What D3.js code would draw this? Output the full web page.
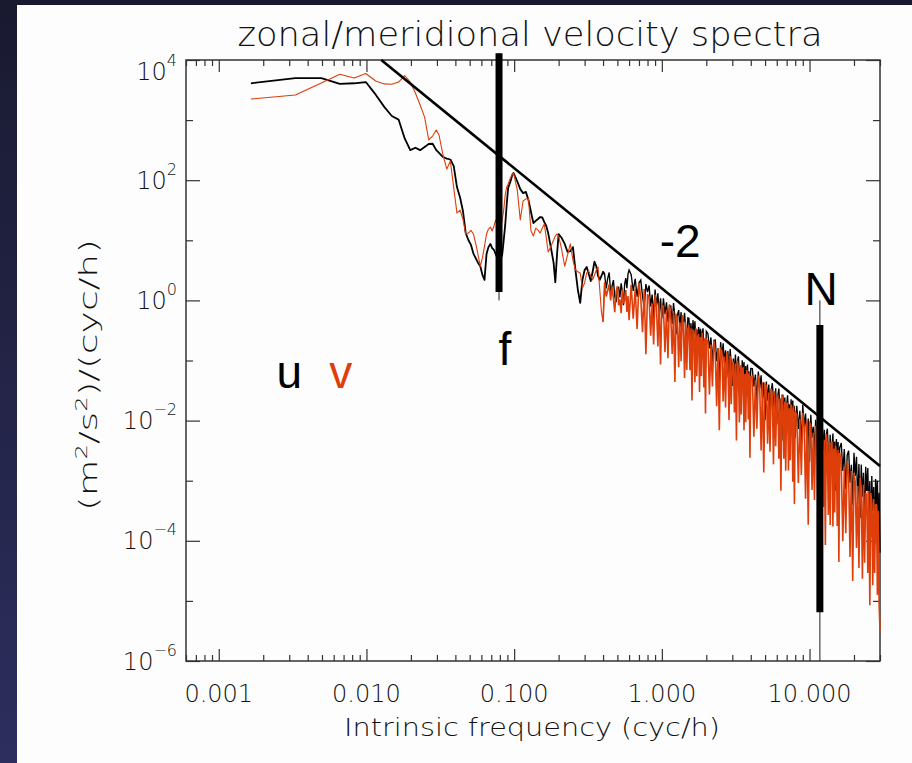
<!DOCTYPE html>
<html>
<head>
<meta charset="utf-8">
<script src="https://cdn.jsdelivr.net/npm/d3@7"></script>
<style>
  html, body { margin: 0; padding: 0; }
  body { width: 912px; height: 763px; overflow: hidden; background: linear-gradient(#191a30, #2d2e5e); }
  svg { display: block; }
</style>
</head>
<body>
<svg id="chart" width="912" height="763"></svg>
<script>
// intrinsic frequency (cyc/h), shared by both spectra
const freq = [
  0.00165, 0.0033, 0.00495, 0.0066, 0.00825, 0.0099, 0.01155, 0.0132, 0.01485, 0.0165, 0.01815, 0.0198, 0.02145, 0.0231, 0.02475, 0.0264, 0.02805, 0.0297,
  0.031, 0.033, 0.035, 0.037, 0.039, 0.041, 0.043, 0.045, 0.047, 0.049, 0.051, 0.053, 0.055, 0.057, 0.059, 0.061, 0.063, 0.065, 0.067, 0.069, 0.071, 0.073, 0.075, 0.077, 0.079, 0.081, 0.083, 0.085, 0.087, 0.089, 0.091, 0.093, 0.095, 0.097, 0.099,
  0.105, 0.11, 0.115, 0.12, 0.125, 0.13, 0.135, 0.14, 0.145, 0.15, 0.155, 0.16, 0.165, 0.17, 0.175, 0.18, 0.185, 0.19, 0.195, 0.2,
  0.21, 0.22, 0.23, 0.24, 0.25, 0.26, 0.27, 0.28, 0.29, 0.3, 0.31, 0.32, 0.33, 0.34, 0.35, 0.36, 0.37, 0.38, 0.39, 0.4,
  0.41, 0.42, 0.43, 0.44, 0.45, 0.46, 0.47, 0.48, 0.49, 0.5, 0.51, 0.52, 0.53, 0.54, 0.55, 0.56, 0.57, 0.58, 0.59, 0.6,
  0.62, 0.64, 0.66, 0.68, 0.7, 0.72, 0.74, 0.76, 0.78, 0.8, 0.82, 0.84, 0.86, 0.88, 0.9, 0.92, 0.94, 0.96, 0.98, 1.0,
  1.025, 1.05, 1.075, 1.1, 1.125, 1.15, 1.175, 1.2, 1.225, 1.25, 1.275, 1.3, 1.325, 1.35, 1.375, 1.4, 1.425, 1.45, 1.475, 1.5,
  1.525, 1.55, 1.575, 1.6, 1.625, 1.65, 1.675, 1.7, 1.725, 1.75, 1.775, 1.8, 1.825, 1.85, 1.875, 1.9, 1.925, 1.95, 1.975, 2.0,
  2.05, 2.1, 2.15, 2.2, 2.25, 2.3, 2.35, 2.4, 2.45, 2.5, 2.55, 2.6, 2.65, 2.7, 2.75, 2.8, 2.85, 2.9, 2.95, 3.0,
  3.05, 3.1, 3.15, 3.2, 3.25, 3.3, 3.35, 3.4, 3.45, 3.5, 3.55, 3.6, 3.65, 3.7, 3.75, 3.8, 3.85, 3.9, 3.95, 4.0,
  4.1, 4.2, 4.3, 4.4, 4.5, 4.6, 4.7, 4.8, 4.9, 5.0, 5.1, 5.2, 5.3, 5.4, 5.5, 5.6, 5.7, 5.8, 5.9, 6.0,
  6.1, 6.2, 6.3, 6.4, 6.5, 6.6, 6.7, 6.8, 6.9, 7.0, 7.1, 7.2, 7.3, 7.4, 7.5, 7.6, 7.7, 7.8, 7.9, 8.0,
  8.2, 8.4, 8.6, 8.8, 9.0, 9.2, 9.4, 9.6, 9.8, 10.0, 10.2, 10.4, 10.6, 10.8, 11.0, 11.2, 11.4, 11.6, 11.8, 12.0,
  12.2, 12.4, 12.6, 12.8, 13.0, 13.2, 13.4, 13.6, 13.8, 14.0, 14.2, 14.4, 14.6, 14.8, 15.0, 15.2, 15.4, 15.6, 15.8, 16.0,
  16.4, 16.8, 17.2, 17.6, 18.0, 18.4, 18.8, 19.2, 19.6, 20.0, 20.4, 20.8, 21.2, 21.6, 22.0, 22.4, 22.8, 23.2, 23.6, 24.0,
  24.4, 24.8, 25.2, 25.6, 26.0, 26.4, 26.8, 27.2, 27.6, 28.0, 28.4, 28.8, 29.2, 29.6, 30.0
];

// zonal (u) spectrum, (m2/s2)/(cyc/h)
const uSpec = [
  4100, 5000, 5000, 4000, 4100, 4300, 2650, 1660, 1170, 1020, 495, 316, 347, 316, 357, 400, 404, 316,
  284, 243, 229, 221, 172, 77, 52, 30.8, 13.2, 10.1, 8.4, 6.0, 5.0, 4.2, 3.7, 2.65, 2.19, 5.9, 7.7, 8.7, 7.4, 6.9, 5.9, 5.1, 4.4, 4.9, 5.7, 10.1, 18, 38.6, 74, 86, 100, 122, 132,
  96, 71, 61, 64, 47, 29.6, 19.4, 21, 22.6, 24.4, 24, 20, 17.3, 13.2, 9.0, 6.2, 4.2, 2.0, 5.7, 12.7,
  10.9, 8.7, 6.4, 6.6, 7.7, 3.2, 1.5, 0.91, 2.2, 3.2, 3.6, 2.75, 2.1, 3.0, 4.4, 3.7, 2.55, 2.2, 2.55, 3.0,
  2.7, 1.58, 2.32, 2.92, 1.35, 1.72, 2.17, 1.17, 0.93, 1.6, 1.65, 1.12, 1.92, 1.41, 0.83, 1.87, 2.35, 1.6, 2.74, 3.2,
  2.67, 1.44, 2.29, 1.15, 1.96, 2.18, 1.18, 0.74, 1.87, 1.37, 1.77, 0.79, 1.25, 0.5, 1.52, 0.79, 1.31, 0.58, 1.08, 0.5,
  1.085, 0.588, 0.931, 0.432, 0.798, 0.807, 0.405, 0.905, 0.55, 0.275, 0.568, 0.688, 0.358, 0.637, 0.307, 0.422, 0.62, 0.348, 0.15, 0.511,
  0.506, 0.244, 0.418, 0.201, 0.469, 0.274, 0.451, 0.194, 0.332, 0.127, 0.362, 0.212, 0.336, 0.139, 0.299, 0.343, 0.165, 0.225, 0.0769, 0.306,
  0.282, 0.159, 0.242, 0.0927, 0.216, 0.218, 0.0973, 0.16, 0.0433, 0.202, 0.113, 0.193, 0.0896, 0.148, 0.0524, 0.144, 0.0594, 0.155, 0.0906, 0.0376,
  0.108, 0.0587, 0.126, 0.0415, 0.0965, 0.117, 0.0588, 0.074, 0.0186, 0.1006, 0.055, 0.0942, 0.0361, 0.0808, 0.0255, 0.0857, 0.0414, 0.0656, 0.0261, 0.0736,
  0.0734, 0.0368, 0.0582, 0.0215, 0.0653, 0.0344, 0.0566, 0.0234, 0.0433, 0.0101, 0.0446, 0.0215, 0.0398, 0.0131, 0.0316, 0.0419, 0.0218, 0.0138, 0.0346, 0.0087,
  0.0261, 0.0341, 0.0147, 0.0232, 0.00466, 0.0272, 0.0108, 0.0242, 0.00735, 0.0178, 0.0264, 0.0127, 0.0187, 0.00506, 0.0226, 0.0125, 0.0215, 0.00705, 0.0177, 0.0052,
  0.0176, 0.00728, 0.01455, 0.00395, 0.01833, 0.00795, 0.0131, 0.0043, 0.0108, 0.00207, 0.01253, 0.00519, 0.0079, 0.00302, 0.01035, 0.00505, 0.00969, 0.00185, 0.0077, 0.00344,
  0.0079, 0.00314, 0.00704, 0.00107, 0.00581, 0.00733, 0.0034, 0.00199, 0.00582, 0.00126, 0.00371, 0.00611, 0.00201, 0.0045, 0.000686, 0.00496, 0.00221, 0.00442, 0.00111, 0.00351,
  0.00424, 0.00145, 0.00337, 0.000726, 0.00268, 0.00315, 0.000922, 0.00184, 0.000397, 0.00292, 0.0012, 0.00249, 0.000411, 0.0019, 0.000239, 0.00185, 0.000543, 0.00136, 0.000171, 0.00171,
  0.000674, 0.00163, 0.000249, 0.00099, 0.000115, 0.0012, 0.000314, 0.000788, 0.000085, 0.00107, 0.000398, 0.001, 0.000126, 0.000632, 0.0000632
];

// meridional (v) spectrum
const vSpec = [
  2240, 2620, 4140, 5780, 5000, 5960, 4470, 4000, 3940, 4300, 5520, 4300, 2830, 1780, 1120, 467, 543, 684,
  565, 262, 153, 209, 74, 28.4, 31.9, 22.6, 12.7, 13.2, 14.6, 12.7, 8.7, 5.7, 3.7, 5.1, 8.0, 12.7, 15.4, 16.6, 14.3, 17.3, 21.8, 18, 14.8, 15.9, 21.8, 32, 57, 77, 86, 100, 113, 122, 132,
  69, 21.8, 45, 49, 49, 14.3, 11.8, 15.9, 14.8, 13.2, 15.9, 18.7, 11, 6.4, 7.4, 8.7, 10.1, 11.8, 12.7, 11.8,
  6.9, 3.7, 5.7, 8.7, 4.7, 3.2, 3.0, 2.86, 1.6, 1.95, 2.86, 3.1, 2.55, 2.2, 2.65, 3.2, 3.6, 1.5, 0.64, 0.44,
  1.99, 1.16, 1.46, 1.84, 1.0, 1.66, 1.08, 0.635, 1.37, 1.72, 0.83, 1.04, 0.61, 1.52, 0.89, 1.01, 1.49, 0.64, 1.18, 0.47,
  1.82, 0.494, 1.56, 0.336, 1.96, 1.09, 0.296, 1.54, 0.127, 1.27, 1.11, 0.259, 0.886, 0.184, 1.25, 0.764, 0.171, 0.925, 0.0857, 0.824,
  0.798, 0.137, 0.685, 0.109, 0.863, 0.509, 0.128, 0.666, 0.0437, 0.593, 0.506, 0.0772, 0.434, 0.0972, 0.568, 0.391, 0.0511, 0.439, 0.0695, 0.336,
  0.387, 0.0688, 0.345, 0.0217, 0.319, 0.307, 0.0434, 0.345, 0.0547, 0.254, 0.277, 0.0299, 0.247, 0.0555, 0.288, 0.2, 0.0357, 0.234, 0.0131, 0.225,
  0.208, 0.0272, 0.185, 0.0369, 0.216, 0.137, 0.0173, 0.16, 0.00688, 0.154, 0.142, 0.0208, 0.117, 0.0166, 0.137, 0.102, 0.0102, 0.119, 0.0188, 0.0942,
  0.0929, 0.0136, 0.0894, 0.00466, 0.1, 0.0712, 0.0093, 0.083, 0.0127, 0.074, 0.0748, 0.00693, 0.0594, 0.00942, 0.0693, 0.0584, 0.0104, 0.0631, 0.00242, 0.0541,
  0.054, 0.0054, 0.048, 0.00734, 0.0561, 0.0371, 0.00318, 0.0433, 0.00137, 0.0401, 0.0383, 0.00414, 0.0293, 0.00304, 0.0341, 0.0264, 0.00187, 0.0308, 0.00373, 0.0235,
  0.0251, 0.00232, 0.0232, 0.00068, 0.0271, 0.0178, 0.00233, 0.0208, 0.00147, 0.0192, 0.0194, 0.00148, 0.016, 0.00218, 0.0187, 0.0152, 0.00096, 0.0177, 0.00041, 0.0141,
  0.0125, 0.000918, 0.0107, 0.00125, 0.0135, 0.00795, 0.000502, 0.00963, 0.000185, 0.00927, 0.00853, 0.000704, 0.00628, 0.000479, 0.00821, 0.00588, 0.000295, 0.00741, 0.000545, 0.00545,
  0.00559, 0.000367, 0.0048, 0.0000854, 0.00604, 0.00367, 0.00027, 0.00462, 0.000184, 0.00428, 0.00433, 0.000173, 0.00344, 0.000295, 0.00386, 0.00258, 0.000176, 0.00325, 0.0000442, 0.0029,
  0.00197, 0.0000988, 0.00169, 0.000134, 0.00213, 0.00126, 0.000054, 0.00146, 0.0000215, 0.00135, 0.000953, 0.0000756, 0.000819, 0.0000352, 0.00111, 0.000737, 0.0000233, 0.00086, 0.0000432, 0.000631,
  0.00058, 0.0000291, 0.000674, 0.00000848, 0.000624, 0.000427, 0.0000183, 0.000498, 0.000029, 0.000395, 0.000398, 0.0000126, 0.000317, 0.0000086, 0.00000317
];

// -2 reference slope, end points
const slopeFreq = [0.0126, 30];
const slopeSpec = [1.0e4, 1.76e-3];

// f and N markers: frequency, thin line range, thick bar range
const fMark = { freq: 0.079, thin: [1.0, 1.3e4], thick: [1.38, 1.3e4] };
const nMark = { freq: 11.75, thin: [1e-6, 1.0], thick: [6.5e-6, 0.39] };

const xTickVals = [0.001, 0.01, 0.1, 1, 10];
const xTickLabels = ["0.001", "0.010", "0.100", "1.000", "10.000"];
const yTickVals = [1e4, 1e2, 1, 1e-2, 1e-4, 1e-6];
const yTickExps = ["4", "2", "0", "\u22122", "\u22124", "\u22126"];
const yMinorVals = [1e3, 1e1, 1e-1, 1e-3, 1e-5];

const svg = d3.select("#chart");
const pLeft = 186, pRight = 880, pTop = 60, pBottom = 661;
const red = "#dd3e0a";
const lightFont = "'DejaVu Sans ExtraLight', 'DejaVu Sans', sans-serif";
const boldFont = "'Liberation Sans', Arial, sans-serif";

// white slide area
svg.append("rect").attr("x", 17).attr("y", 5).attr("width", 895).attr("height", 758).attr("fill", "#fdfdfd");

const x = d3.scaleLog().domain([0.0006, 30]).range([pLeft, pRight]);
const y = d3.scaleLog().domain([1e-6, 1e4]).range([pBottom, pTop]);

// ticks
const allX = x.ticks();
const isDecade = v => Math.abs(Math.log10(v) - Math.round(Math.log10(v))) < 1e-6;
const xMaj = allX.filter(isDecade);
const xMin = allX.filter(v => !isDecade(v));

function addAxis(axis, tr) {
  const g = svg.append("g").attr("transform", tr).call(axis.tickFormat(""));
  g.select(".domain").remove();
  g.selectAll("line").attr("stroke", "#333").attr("stroke-width", 1.2);
}
addAxis(d3.axisBottom(x).tickValues(xMin).tickSize(-6), `translate(0,${pBottom})`);
addAxis(d3.axisBottom(x).tickValues(xMaj).tickSize(-12), `translate(0,${pBottom})`);
addAxis(d3.axisTop(x).tickValues(xMin).tickSize(-6), `translate(0,${pTop})`);
addAxis(d3.axisTop(x).tickValues(xMaj).tickSize(-12), `translate(0,${pTop})`);
addAxis(d3.axisLeft(y).tickValues(yTickVals).tickSize(-14), `translate(${pLeft},0)`);
addAxis(d3.axisLeft(y).tickValues(yMinorVals).tickSize(-7), `translate(${pLeft},0)`);
addAxis(d3.axisRight(y).tickValues(yTickVals).tickSize(-14), `translate(${pRight},0)`);
addAxis(d3.axisRight(y).tickValues(yMinorVals).tickSize(-7), `translate(${pRight},0)`);

svg.append("rect")
  .attr("x", pLeft).attr("y", pTop).attr("width", pRight - pLeft).attr("height", pBottom - pTop)
  .attr("fill", "none").attr("stroke", "#333").attr("stroke-width", 1.5);

// tick labels
svg.append("g").selectAll("text").data(xTickVals).join("text")
  .attr("x", d => x(d)).attr("y", 702)
  .attr("text-anchor", "middle")
  .style("font-family", lightFont).style("font-weight", 200).style("font-size", "24px").attr("fill", "#111")
  .text((d, i) => xTickLabels[i]);

const yl = svg.append("g").selectAll("text").data(yTickVals).join("text")
  .attr("x", 177)
  .attr("y", (d, i) => i === 0 ? 80 : y(d) + 8.5)
  .attr("text-anchor", "end")
  .style("font-family", lightFont).style("font-weight", 200).style("font-size", "24px").attr("fill", "#111");
yl.append("tspan").text("10");
yl.append("tspan").attr("dy", -14).style("font-size", "16px").text((d, i) => yTickExps[i]);

// titles
svg.append("text").attr("x", 530).attr("y", 46).attr("text-anchor", "middle")
  .attr("textLength", 585).attr("lengthAdjust", "spacingAndGlyphs")
  .style("font-family", lightFont).style("font-weight", 200).style("font-size", "33px").attr("fill", "#111")
  .text("zonal/meridional velocity spectra");

svg.append("text").attr("x", 532).attr("y", 736).attr("text-anchor", "middle")
  .attr("textLength", 376).attr("lengthAdjust", "spacingAndGlyphs")
  .style("font-family", lightFont).style("font-weight", 200).style("font-size", "25px").attr("fill", "#111")
  .text("Intrinsic frequency (cyc/h)");

const yt = svg.append("text").attr("transform", "translate(97,375) rotate(-90)").attr("text-anchor", "middle")
  .attr("textLength", 272).attr("lengthAdjust", "spacingAndGlyphs")
  .style("font-family", lightFont).style("font-weight", 200).style("font-size", "25px").attr("fill", "#111");
yt.append("tspan").text("(m");
yt.append("tspan").attr("dy", -10).style("font-size", "16px").text("2");
yt.append("tspan").attr("dy", 10).text("/s");
yt.append("tspan").attr("dy", -10).style("font-size", "16px").text("2");
yt.append("tspan").attr("dy", 10).text(")/(cyc/h)");

// spectra: resolved low-frequency part drawn heavier, dense noisy tail as a filled band
const pts = s => freq.map((f, i) => [f, s[i]]);
const line = d3.line().x(d => x(d[0])).y(d => y(d[1]));
const lowPart = p => p.filter(d => d[0] <= 0.41);
const highPart = p => p.filter(d => d[0] >= 0.4);

svg.append("path").datum(lowPart(pts(uSpec))).attr("d", line)
  .attr("fill", "none").attr("stroke", "#000").attr("stroke-width", 1.8).attr("stroke-linejoin", "round");
svg.append("path").datum(highPart(pts(uSpec))).attr("d", line)
  .attr("fill", "none").attr("stroke", "#000").attr("stroke-width", 1.35);
svg.append("path").datum(lowPart(pts(vSpec))).attr("d", line)
  .attr("fill", "none").attr("stroke", red).attr("stroke-width", 1.1).attr("stroke-linejoin", "round");
svg.append("path").datum(highPart(pts(vSpec))).attr("d", line)
  .attr("fill", "none").attr("stroke", red).attr("stroke-width", 1.6);

// -2 slope
svg.append("path").datum(slopeFreq.map((f, i) => [f, slopeSpec[i]])).attr("d", line)
  .attr("fill", "none").attr("stroke", "#000").attr("stroke-width", 2.6);

// f and N markers
[fMark, nMark].forEach(m => {
  svg.append("line").attr("x1", x(m.freq)).attr("x2", x(m.freq))
    .attr("y1", y(m.thin[0])).attr("y2", y(m.thin[1])).attr("stroke", "#222").attr("stroke-width", 1);
  svg.append("line").attr("x1", x(m.freq)).attr("x2", x(m.freq))
    .attr("y1", y(m.thick[0])).attr("y2", y(m.thick[1])).attr("stroke", "#000").attr("stroke-width", 7);
});

// annotations
const notes = [
  { t: "f", f: 0.0867, v: 0.084, c: "#000" },
  { t: "-2", f: 1.33, v: 5.3, c: "#000" },
  { t: "N", f: 12, v: 0.83, c: "#000" },
  { t: "u", f: 0.003, v: 0.035, c: "#000" },
  { t: "v", f: 0.0067, v: 0.035, c: red }
];
svg.append("g").selectAll("text").data(notes).join("text")
  .attr("x", d => x(d.f)).attr("y", d => y(d.v))
  .attr("text-anchor", "middle")
  .style("font-family", boldFont).style("font-size", "46px")
  .attr("fill", d => d.c)
  .text(d => d.t);
</script>
</body>
</html>
